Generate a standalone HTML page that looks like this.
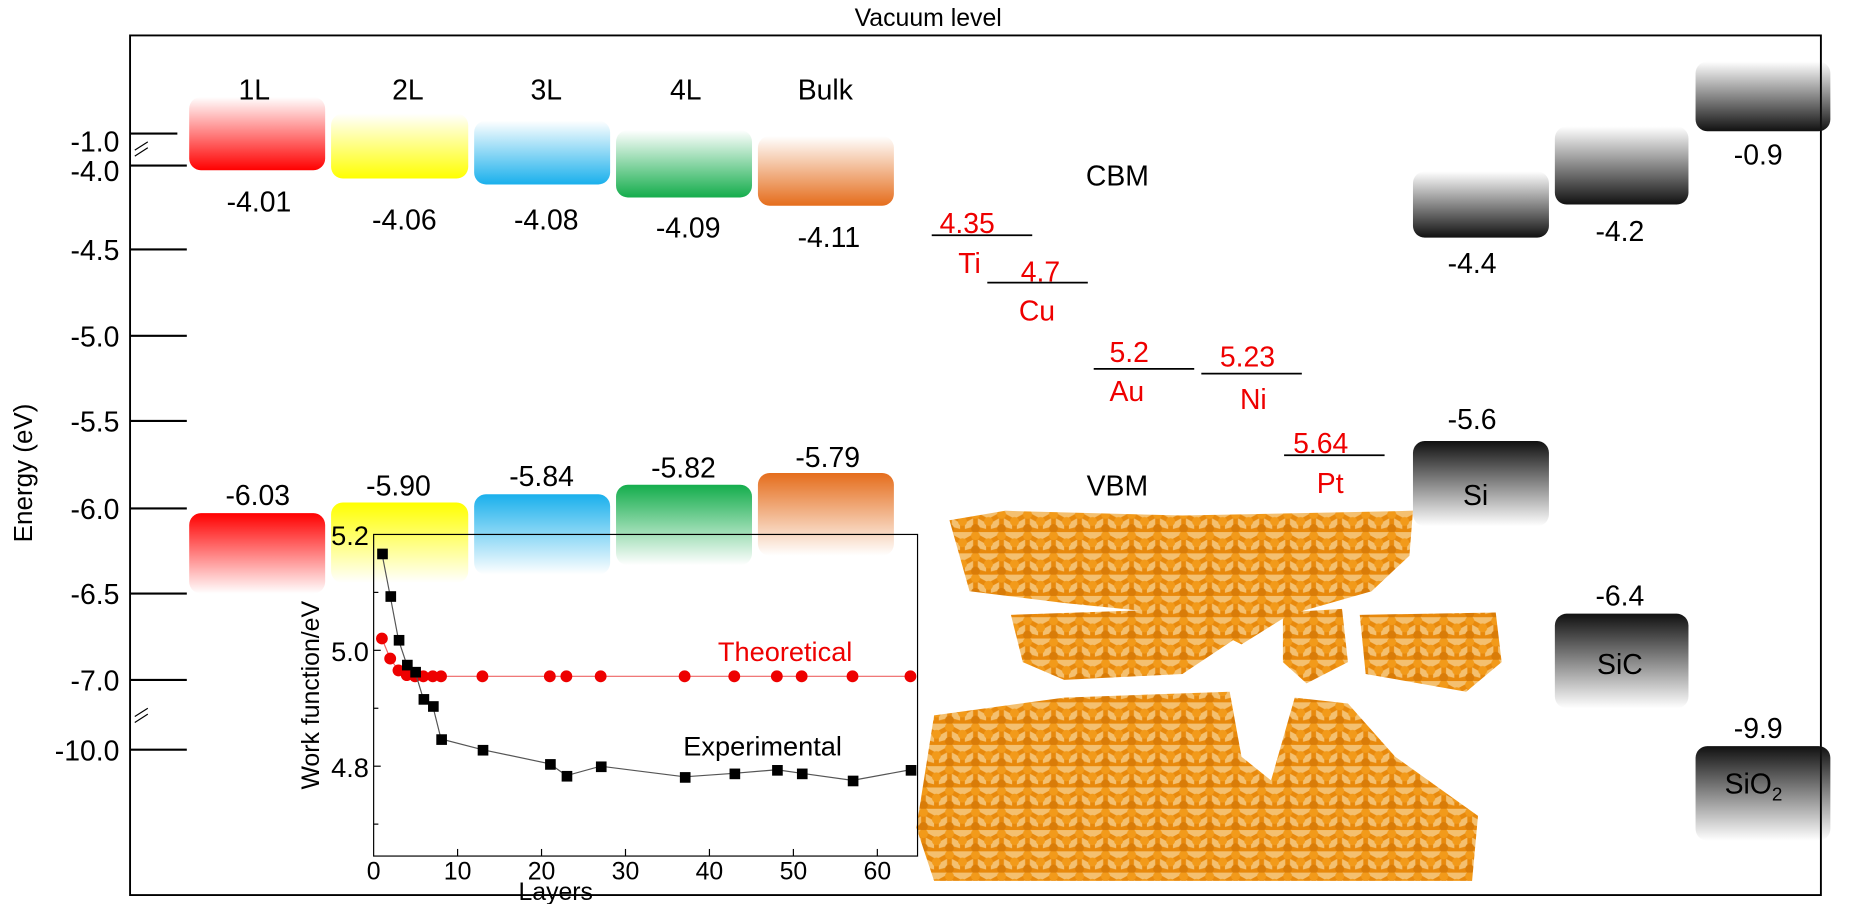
<!DOCTYPE html>
<html><head><meta charset="utf-8"><style>
html,body{margin:0;padding:0;background:#fff;}
svg{display:block;font-family:"Liberation Sans",Arial,sans-serif;}
</style></head><body>
<svg width="1854" height="904" viewBox="0 0 1854 904" xmlns="http://www.w3.org/2000/svg">
<defs>
<linearGradient id="gr" x1="0" y1="0" x2="0" y2="1"><stop offset="0" stop-color="#ff0000" stop-opacity="0"/><stop offset="1" stop-color="#ff0000"/></linearGradient>
<linearGradient id="gy" x1="0" y1="0" x2="0" y2="1"><stop offset="0" stop-color="#ffff00" stop-opacity="0"/><stop offset="1" stop-color="#ffff00"/></linearGradient>
<linearGradient id="gb" x1="0" y1="0" x2="0" y2="1"><stop offset="0" stop-color="#1ab0ec" stop-opacity="0"/><stop offset="1" stop-color="#1ab0ec"/></linearGradient>
<linearGradient id="gg" x1="0" y1="0" x2="0" y2="1"><stop offset="0" stop-color="#14ad4c" stop-opacity="0"/><stop offset="1" stop-color="#14ad4c"/></linearGradient>
<linearGradient id="go" x1="0" y1="0" x2="0" y2="1"><stop offset="0" stop-color="#e56d1c" stop-opacity="0"/><stop offset="1" stop-color="#e56d1c"/></linearGradient>
<linearGradient id="gk" x1="0" y1="0" x2="0" y2="1"><stop offset="0" stop-color="#111" stop-opacity="0"/><stop offset="1" stop-color="#111"/></linearGradient>
<linearGradient id="vr" x1="0" y1="0" x2="0" y2="1"><stop offset="0" stop-color="#ff0000"/><stop offset="1" stop-color="#ff0000" stop-opacity="0"/></linearGradient>
<linearGradient id="vy" x1="0" y1="0" x2="0" y2="1"><stop offset="0" stop-color="#ffff00"/><stop offset="1" stop-color="#ffff00" stop-opacity="0"/></linearGradient>
<linearGradient id="vb" x1="0" y1="0" x2="0" y2="1"><stop offset="0" stop-color="#1ab0ec"/><stop offset="1" stop-color="#1ab0ec" stop-opacity="0"/></linearGradient>
<linearGradient id="vg" x1="0" y1="0" x2="0" y2="1"><stop offset="0" stop-color="#14ad4c"/><stop offset="1" stop-color="#14ad4c" stop-opacity="0"/></linearGradient>
<linearGradient id="vo" x1="0" y1="0" x2="0" y2="1"><stop offset="0" stop-color="#e56d1c"/><stop offset="1" stop-color="#e56d1c" stop-opacity="0"/></linearGradient>
<linearGradient id="vk" x1="0" y1="0" x2="0" y2="1"><stop offset="0" stop-color="#111"/><stop offset="1" stop-color="#111" stop-opacity="0"/></linearGradient>
<pattern id="mol" width="22" height="18" patternUnits="userSpaceOnUse">
<rect width="22" height="18" fill="#f4c070"/>
<path d="M0 9 L11 3 L22 9 M11 3 L11 15 M0 9 L0 18 M22 9 L22 18 M0 18 L11 15 L22 18" stroke="#e8890c" stroke-width="4" fill="none"/>
<circle cx="11" cy="3" r="3.8" fill="#f29a1a"/><circle cx="0" cy="9" r="3.8" fill="#f29a1a"/><circle cx="22" cy="9" r="3.8" fill="#f29a1a"/><circle cx="11" cy="15" r="3.8" fill="#d97c08"/>
</pattern>
</defs>
<g transform="scale(1.1824)">
<text x="785" y="22" font-size="21" text-anchor="middle">Vacuum level</text>
<path d="M110 30 H1540 V757 H110 Z" fill="none" stroke="#000" stroke-width="1.6"/>
<g stroke="#000" stroke-width="1.8">
<line x1="110" y1="113" x2="150" y2="113"/><line x1="110" y1="140" x2="158" y2="140"/>
<line x1="110" y1="211" x2="158" y2="211"/><line x1="110" y1="284" x2="158" y2="284"/>
<line x1="110" y1="356" x2="158" y2="356"/><line x1="110" y1="430" x2="158" y2="430"/>
<line x1="110" y1="502" x2="158" y2="502"/><line x1="110" y1="575" x2="158" y2="575"/>
<line x1="110" y1="634" x2="158" y2="634"/>
<line x1="114" y1="127" x2="125" y2="120" stroke-width="1"/><line x1="114" y1="132" x2="125" y2="125" stroke-width="1"/>
<line x1="114" y1="606" x2="125" y2="599" stroke-width="1"/><line x1="114" y1="611" x2="125" y2="604" stroke-width="1"/>
</g>
<g font-size="24" text-anchor="end">
<text x="101" y="128">-1.0</text><text x="101" y="153">-4.0</text><text x="101" y="220">-4.5</text>
<text x="101" y="293">-5.0</text><text x="101" y="365">-5.5</text><text x="101" y="439">-6.0</text>
<text x="101" y="511">-6.5</text><text x="101" y="584">-7.0</text><text x="101" y="643">-10.0</text>
</g>
<text transform="translate(27,400) rotate(-90)" font-size="22" text-anchor="middle">Energy (eV)</text>
<rect x="160" y="82" width="115" height="62" rx="10" fill="url(#gr)"/>
<rect x="280" y="96" width="116" height="55" rx="10" fill="url(#gy)"/>
<rect x="401" y="102" width="115" height="54" rx="10" fill="url(#gb)"/>
<rect x="521" y="110" width="115" height="57" rx="10" fill="url(#gg)"/>
<rect x="641" y="115" width="115" height="59" rx="10" fill="url(#go)"/>
<g font-size="24" text-anchor="middle">
<text x="215" y="84">1L</text><text x="345" y="84">2L</text><text x="462" y="84">3L</text><text x="580" y="84">4L</text><text x="698" y="84">Bulk</text>
<text x="219" y="179">-4.01</text><text x="342" y="194">-4.06</text><text x="462" y="194">-4.08</text><text x="582" y="201">-4.09</text><text x="701" y="209">-4.11</text>
<text x="218" y="427">-6.03</text><text x="337" y="419">-5.90</text><text x="458" y="411">-5.84</text><text x="578" y="404">-5.82</text><text x="700" y="395">-5.79</text>
<text x="945" y="157">CBM</text><text x="945" y="419">VBM</text>
</g>
<rect x="160" y="434" width="115" height="68" rx="10" fill="url(#vr)"/>
<rect x="280" y="425" width="116" height="68" rx="10" fill="url(#vy)"/>
<rect x="401" y="418" width="115" height="68" rx="10" fill="url(#vb)"/>
<rect x="521" y="410" width="115" height="68" rx="10" fill="url(#vg)"/>
<rect x="641" y="400" width="115" height="70" rx="10" fill="url(#vo)"/>
<g stroke="#000" stroke-width="1.5">
<line x1="788" y1="199" x2="873" y2="199"/><line x1="835" y1="239" x2="920" y2="239"/>
<line x1="925" y1="312" x2="1010" y2="312"/><line x1="1016" y1="316" x2="1101" y2="316"/>
<line x1="1086" y1="385" x2="1171" y2="385"/>
</g>
<g font-size="24" fill="#e00" text-anchor="middle">
<text x="818" y="197">4.35</text><text x="820" y="231">Ti</text>
<text x="880" y="238">4.7</text><text x="877" y="271">Cu</text>
<text x="955" y="306">5.2</text><text x="953" y="339">Au</text>
<text x="1055" y="310">5.23</text><text x="1060" y="346">Ni</text>
<text x="1117" y="383">5.64</text><text x="1125" y="417">Pt</text>
</g>
<rect x="1195" y="145" width="115" height="56" rx="10" fill="url(#gk)"/>
<rect x="1315" y="107" width="113" height="66" rx="10" fill="url(#gk)"/>
<rect x="1434" y="52" width="114" height="59" rx="10" fill="url(#gk)"/>
<rect x="1195" y="373" width="115" height="72" rx="10" fill="url(#vk)"/>
<rect x="1315" y="519" width="113" height="80" rx="10" fill="url(#vk)"/>
<rect x="1434" y="631" width="114" height="80" rx="10" fill="url(#vk)"/>
<g font-size="24" text-anchor="middle">
<text x="1245" y="231">-4.4</text><text x="1370" y="204">-4.2</text><text x="1487" y="139">-0.9</text>
<text x="1245" y="363">-5.6</text><text x="1248" y="427">Si</text>
<text x="1370" y="512">-6.4</text><text x="1370" y="570">SiC</text>
<text x="1487" y="624">-9.9</text><text x="1483" y="671">SiO<tspan font-size="16" dy="6">2</tspan></text>
</g>
<g fill="url(#mol)">
<path d="M803 440 L850 432 L1000 436 L1195 432 L1192 470 L1160 500 L1090 520 L1050 545 L1000 520 L900 510 L820 500 Z"/>
<path d="M855 520 L1000 515 L1045 540 L1000 570 L900 575 L865 560 Z"/>
<path d="M1085 518 L1135 515 L1140 560 L1105 578 L1085 560 Z"/>
<path d="M1150 520 L1265 518 L1270 560 L1240 585 L1155 570 Z"/>
<path d="M790 605 L900 590 L1040 585 L1050 640 L1075 660 L1095 590 L1140 595 L1180 640 L1250 690 L1245 745 L790 745 L775 700 Z"/>
</g>
<rect x="316" y="452" width="460" height="272" fill="none" stroke="#000" stroke-width="1"/>
<g stroke="#000" stroke-width="1">
<line x1="316" y1="501" x2="320" y2="501"/><line x1="316" y1="550" x2="322" y2="550"/><line x1="316" y1="599" x2="320" y2="599"/><line x1="316" y1="648" x2="322" y2="648"/><line x1="316" y1="697" x2="320" y2="697"/>
<line x1="387" y1="724" x2="387" y2="718"/><line x1="458" y1="724" x2="458" y2="718"/><line x1="529" y1="724" x2="529" y2="718"/><line x1="600" y1="724" x2="600" y2="718"/><line x1="671" y1="724" x2="671" y2="718"/><line x1="742" y1="724" x2="742" y2="718"/>
</g>
<g font-size="23" text-anchor="end"><text x="312" y="461">5.2</text><text x="312" y="559">5.0</text><text x="312" y="657">4.8</text></g>
<g font-size="21" text-anchor="middle">
<text x="316" y="744">0</text><text x="387" y="744">10</text><text x="458" y="744">20</text><text x="529" y="744">30</text><text x="600" y="744">40</text><text x="671" y="744">50</text><text x="742" y="744">60</text>
<text x="470" y="761" font-size="21">Layers</text>
</g>
<text transform="translate(270,588) rotate(-90)" font-size="21" text-anchor="middle">Work function/eV</text>
<text x="664" y="559" font-size="23" fill="#e00" text-anchor="middle">Theoretical</text>
<text x="645" y="639" font-size="23" text-anchor="middle">Experimental</text>
<polyline fill="none" stroke="#e66" stroke-width="1" points="323,540 330,557 337,567 344,569 351,572 358,572 366,572 373,572 408,572 465,572 479,572 508,572 579,572 621,572 657,572 678,572 721,572 770,572"/>
<g fill="#e00">
<circle cx="323" cy="540" r="5"/><circle cx="330" cy="557" r="5"/><circle cx="337" cy="567" r="5"/><circle cx="344" cy="571" r="5"/><circle cx="351" cy="572" r="5"/><circle cx="358" cy="572" r="5"/><circle cx="366" cy="572" r="5"/><circle cx="373" cy="572" r="5"/>
<circle cx="408" cy="572" r="5"/><circle cx="465" cy="572" r="5"/><circle cx="479" cy="572" r="5"/><circle cx="508" cy="572" r="5"/><circle cx="579" cy="572" r="5"/><circle cx="621" cy="572" r="5"/><circle cx="657" cy="572" r="5"/><circle cx="678" cy="572" r="5"/><circle cx="721" cy="572" r="5"/><circle cx="770" cy="572" r="5"/>
</g>
<polyline fill="none" stroke="#555" stroke-width="1" points="323,468 330,504 337,541 344,562 351,568 358,591 366,597 373,625 408,634 465,646 479,656 508,648 579,657 621,654 657,651 678,654 721,660 770,651"/>
<g fill="#000">
<rect x="319" y="464" width="9" height="9"/><rect x="326" y="500" width="9" height="9"/><rect x="333" y="537" width="9" height="9"/><rect x="340" y="558" width="9" height="9"/><rect x="347" y="564" width="9" height="9"/><rect x="354" y="587" width="9" height="9"/><rect x="362" y="593" width="9" height="9"/><rect x="369" y="621" width="9" height="9"/>
<rect x="404" y="630" width="9" height="9"/><rect x="461" y="642" width="9" height="9"/><rect x="475" y="652" width="9" height="9"/><rect x="504" y="644" width="9" height="9"/><rect x="575" y="653" width="9" height="9"/><rect x="617" y="650" width="9" height="9"/><rect x="653" y="647" width="9" height="9"/><rect x="674" y="650" width="9" height="9"/><rect x="717" y="656" width="9" height="9"/><rect x="766" y="647" width="9" height="9"/>
</g>
</g>
</svg>
</body></html>
